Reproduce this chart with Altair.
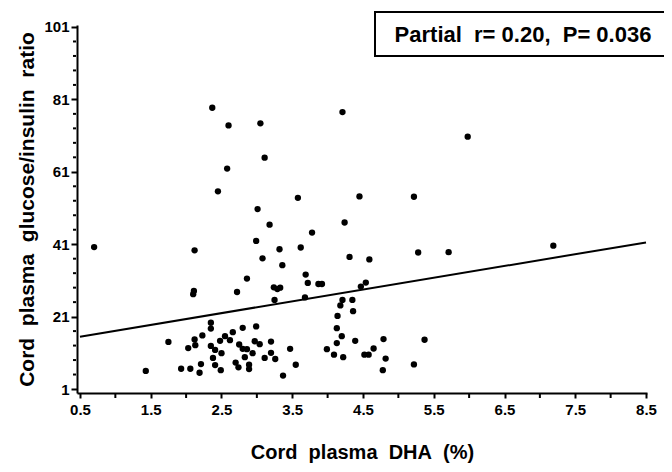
import altair as alt
import pandas as pd

# Cord plasma DHA (%) and glucose/insulin ratio
dha = [2.37, 2.60, 3.05, 4.21, 5.98, 2.58, 2.45, 3.11, 3.58, 4.45, 5.22, 3.01, 3.18, 4.24, 3.78,
       2.99, 0.70, 2.12, 3.08, 3.32, 3.62, 3.36, 4.31, 4.59, 5.28, 5.71, 7.19, 2.11, 2.10, 2.72,
       2.86, 3.69, 3.72, 3.87, 3.92, 3.24, 3.29, 3.33, 4.54, 4.47, 3.25, 3.68, 4.21, 4.35, 4.18,
       4.36, 4.14, 2.35, 2.35, 1.75, 2.12, 2.23, 2.03, 2.13, 2.80, 2.99, 2.55, 2.66, 2.48, 2.62,
       2.35, 2.41, 2.50, 2.75, 2.80, 2.86, 2.94, 2.97, 2.38, 2.83, 2.41, 2.70, 2.74, 2.21, 2.89,
       2.89, 1.93, 2.06, 2.19, 2.49, 1.43, 3.20, 3.04, 3.20, 3.47, 3.11, 3.26, 3.99, 4.09, 4.22,
       4.65, 4.52, 4.58, 4.82, 3.55, 3.37, 5.22, 4.78, 4.13, 4.20, 4.13, 4.39, 4.79, 5.37]
ratio = [78.7, 73.8, 74.4, 77.5, 70.7, 61.9, 55.6, 64.9, 53.8, 54.2, 54.1, 50.7, 46.4, 47.0, 44.2,
         41.9, 40.2, 39.3, 37.1, 39.6, 40.1, 35.2, 37.5, 36.8, 38.7, 38.8, 40.6, 28.1, 27.2, 27.8,
         31.5, 32.6, 30.3, 30.0, 30.0, 29.1, 28.6, 29.0, 30.4, 29.3, 25.6, 26.3, 25.6, 25.6, 24.1,
         22.5, 21.2, 19.3, 17.7, 14.0, 14.7, 15.8, 12.3, 13.1, 17.9, 18.3, 15.6, 16.7, 14.3, 14.5,
         12.9, 11.8, 10.9, 13.3, 12.1, 12.0, 10.9, 14.2, 9.6, 9.8, 7.6, 8.3, 7.0, 7.9, 7.7,
         6.5, 6.6, 6.6, 5.5, 6.2, 6.0, 14.1, 13.4, 11.0, 12.1, 9.6, 9.3, 12.0, 10.5, 9.8,
         12.2, 10.5, 10.5, 9.4, 7.7, 4.7, 7.8, 6.2, 13.7, 15.6, 17.8, 14.3, 14.8, 14.6]

# regression line end points
fit_x = [0.5, 8.5]
fit_y = [15.45, 41.5]

x_major = [0.5, 1.5, 2.5, 3.5, 4.5, 5.5, 6.5, 7.5, 8.5]
x_minor = [1.0, 2.0, 3.0, 4.0, 5.0, 6.0, 7.0, 8.0]
y_major = [1, 21, 41, 61, 81, 101]
y_minor = [5, 9, 13, 17, 25, 29, 33, 37, 45, 49, 53, 57, 65, 69, 73, 77, 85, 89, 93, 97]

annotation = ["Partial\u00a0 r=\u00a00.20,\u00a0 P=\u00a00.036"]

pts = pd.DataFrame({"dha": dha, "ratio": ratio})
fit = pd.DataFrame({"dha": fit_x, "ratio": fit_y})

FONT = "Liberation Sans"

x_scale = alt.Scale(domain=[0.458, 8.514], nice=False, zero=False)
y_scale = alt.Scale(domain=[-0.1, 101.55], nice=False, zero=False)

x_axis = alt.Axis(
    values=x_major, format=".1f",
    title="Cord\u00a0 plasma\u00a0 DHA\u00a0 (%)",
    grid=False,
    domainColor="black", domainWidth=2,
    tickColor="black", tickWidth=2, tickSize=5,
    labelFont=FONT, labelFontSize=15, labelFontWeight="bold", labelColor="black",
    labelPadding=4, labelFlush=False, labelOverlap=False,
    titleFont=FONT, titleFontSize=20, titleFontWeight="bold", titleColor="black",
    titlePadding=25,
)
y_axis = alt.Axis(
    values=y_major, format="d",
    title="Cord\u00a0 plasma\u00a0 glucose/insulin\u00a0 ratio",
    grid=False,
    domainColor="black", domainWidth=2,
    tickColor="black", tickWidth=2, tickSize=6,
    labelFont=FONT, labelFontSize=15, labelFontWeight="bold", labelColor="black",
    labelPadding=2, labelFlush=False, labelOverlap=False,
    titleFont=FONT, titleFontSize=21, titleFontWeight="bold", titleColor="black",
    titlePadding=6,
)

points = alt.Chart(pts).mark_circle(size=40, color="black", opacity=1).encode(
    x=alt.X("dha:Q", scale=x_scale, axis=x_axis),
    y=alt.Y("ratio:Q", scale=y_scale, axis=y_axis),
)

line = alt.Chart(fit).mark_line(color="black", strokeWidth=2).encode(
    x=alt.X("dha:Q", scale=x_scale, axis=x_axis),
    y=alt.Y("ratio:Q", scale=y_scale, axis=y_axis),
)

ymin = alt.Chart(pd.DataFrame({"v": y_minor})).mark_rule(color="black", strokeWidth=2).encode(
    y=alt.Y("v:Q", scale=y_scale, axis=y_axis),
    x=alt.value(-1), x2=alt.value(-4),
)
xmin = alt.Chart(pd.DataFrame({"v": x_minor})).mark_rule(color="black", strokeWidth=2).encode(
    x=alt.X("v:Q", scale=x_scale, axis=x_axis),
    y=alt.value(369), y2=alt.value(373),
)

ann = pd.DataFrame({"label": annotation})
box = alt.Chart(ann).mark_rect(fill="white", stroke="black", strokeWidth=2).encode(
    x=alt.value(298), x2=alt.value(589), y=alt.value(-13), y2=alt.value(31)
)
txt = alt.Chart(ann).mark_text(
    font=FONT, fontSize=22, fontWeight="bold", color="black", align="center", baseline="alphabetic"
).encode(x=alt.value(446), y=alt.value(17), text="label:N")

chart = alt.layer(points, line, ymin, xmin, box, txt).properties(
    width=570, height=368,
    autosize=alt.AutoSizeParams(type="none"),
    padding={"left": 69, "top": 17, "right": 17, "bottom": 71},
    background="white",
).configure_view(stroke=None)

chart.save("out.html", embed_options={"renderer": "svg", "actions": False})
